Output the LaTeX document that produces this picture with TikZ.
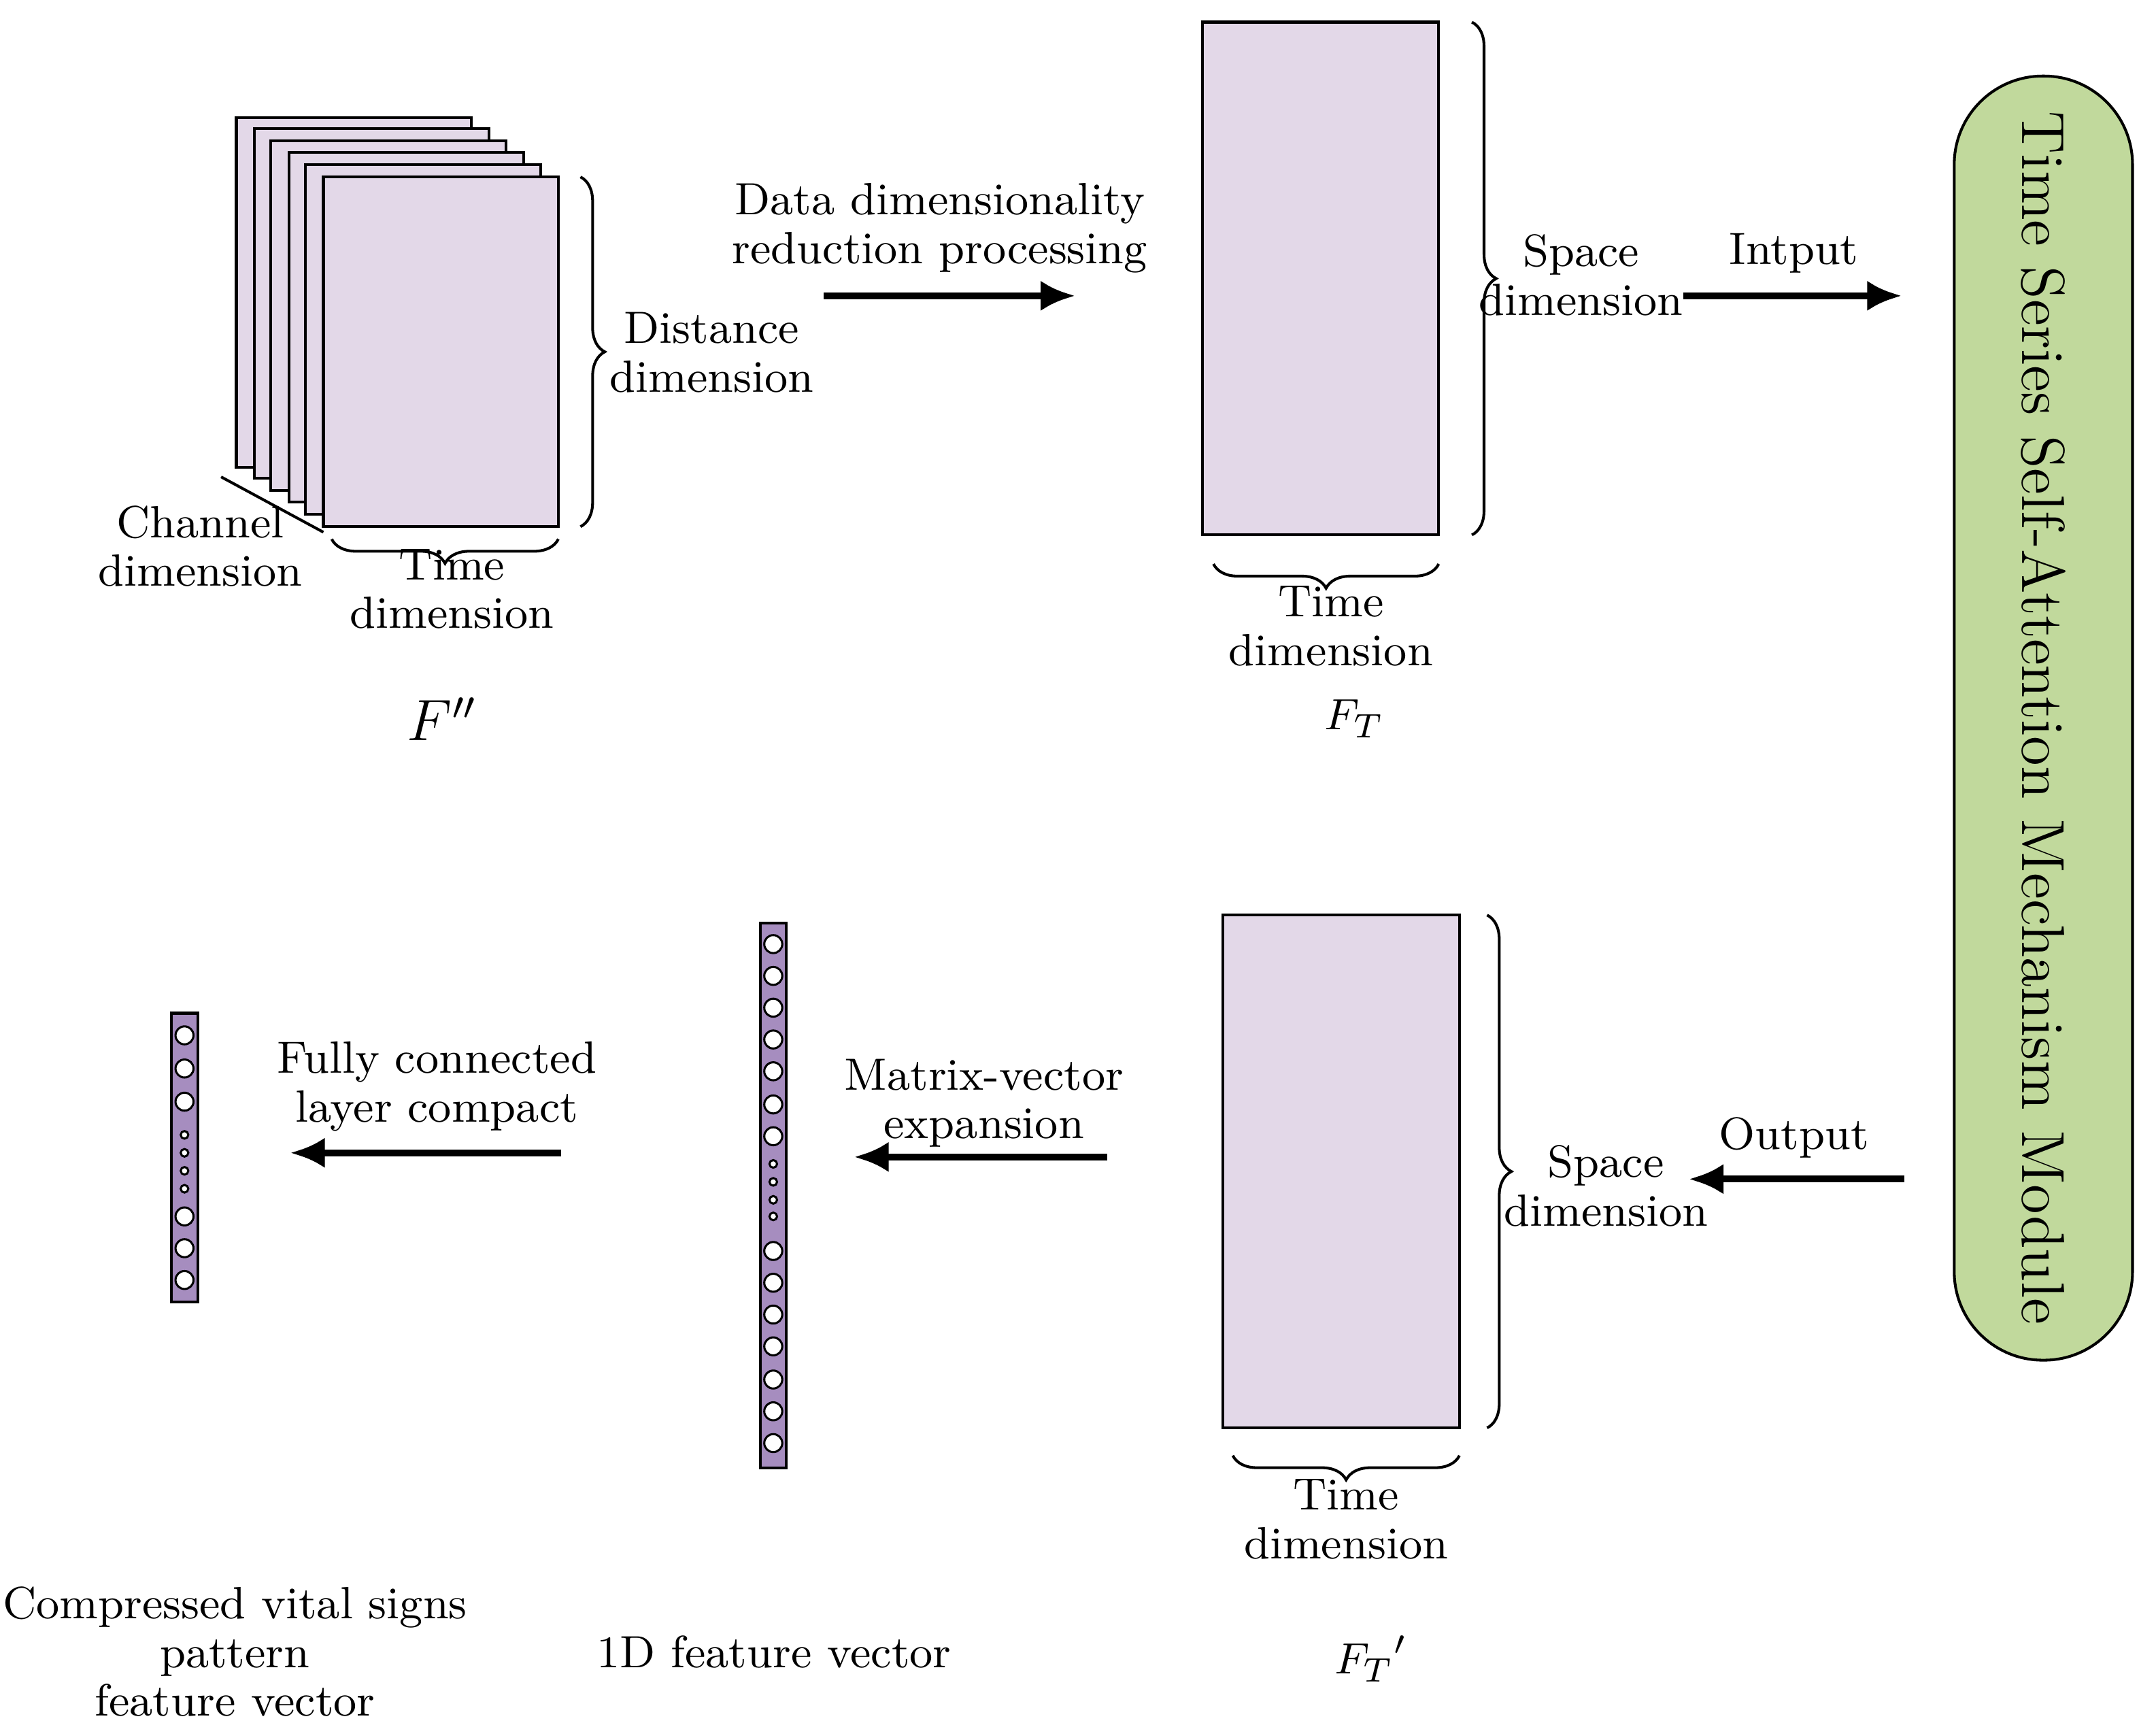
\documentclass[tikz,border=0pt]{standalone}
\usetikzlibrary{decorations.pathreplacing,arrows.meta}
\definecolor{lightpurple}{HTML}{E3D8E8}
\definecolor{vecpurple}{HTML}{A68DBF}
\definecolor{modgreen}{HTML}{C1D99C}
\tikzset{
  lbl/.style={align=center, font=\fontsize{9.3}{10}\selectfont, inner sep=1pt},
  mat/.style={draw, fill=lightpurple, line width=0.2mm},
  arr/.style={-{Latex[length=2.5mm,width=2.2mm]}, line width=0.5mm},
  brc/.style={decorate, decoration={brace, amplitude=5pt}, line width=0.2mm},
  big/.style={draw, fill=white, circle, inner sep=0pt, minimum size=1.3mm, line width=0.15mm},
  small/.style={draw, fill=white, circle, inner sep=0pt, minimum size=0.55mm, line width=0.15mm},
}
\begin{document}
\begin{tikzpicture}[x=0.01cm, y=-0.01cm]
\useasboundingbox (0,0) rectangle (1560,1245);

% stacked channel maps
\foreach \i/\x/\y in {0/171/85,1/184/93,2/196/102,3/209/110,4/221/119,5/234/128}
  \draw [mat] (\x,\y) rectangle ++(170,253);
\draw [line width=0.2mm] (160,345) -- (234,385);
\node [lbl] (chan) at (145,395) {Channel\\dimension};
\draw [brc] (404,390) -- (240,390);
\node [lbl] (time1) at (327,426) {Time\\dimension};
\draw [brc] (420,128) -- (420,381);
\node [lbl] (dist) at (515,255) {Distance\\dimension};
\node [lbl, font=\large] (Fpp) at (320,520) {$F''$};

\coordinate (a1s) at (596,214);
\coordinate (a1e) at (778,214);
\draw [arr] (a1s) -- (a1e);
\node [lbl] (red) at (680,165) {Data dimensionality\\reduction processing};

% F_T
\draw [mat] (870,16) rectangle (1041,387);
\draw [brc] (1065,16) -- (1065,387);
\node [lbl] (space1) at (1144,199) {Space\\dimension};
\draw [brc] (1041,408) -- (878,408);
\node [lbl] (time2) at (963,453) {Time\\dimension};
\node [lbl] (FT) at (980,520) {$F_T$};

\coordinate (a2s) at (1218,214);
\coordinate (a2e) at (1376,214);
\draw [arr] (a2s) -- (a2e);
\node [lbl] (inp) at (1298,183) {Intput};

% attention module
\draw [fill=modgreen, line width=0.2mm, rounded corners=0.64cm] (1414,55) rectangle (1543,984);
\node [lbl, rotate=-90, font=\fontsize{12.5}{13}\selectfont] (modtxt) at (1478.5,519.5) {Time Series Self-Attention Mechanism Module};

\draw [arr] (1378,853) -- (1222,853);
\node [lbl] (out) at (1298,823) {Output};

% F_T'
\draw [mat] (885,662) rectangle (1056,1033);
\draw [brc] (1076,662) -- (1076,1033);
\node [lbl] (space2) at (1162,858) {Space\\dimension};
\draw [brc] (1056,1053) -- (892,1053);
\node [lbl] (time3) at (974,1099) {Time\\dimension};
\node [lbl] (FTp) at (992,1200) {$F_T{}'$};

% 1D feature vector
\draw [fill=vecpurple, line width=0.2mm] (550,668) rectangle (569,1062);
\foreach \y in {683,706,729,752,775,799,822,905,928,951,974,998,1021,1044}
  \node [big] at (559.5,\y) {};
\foreach \y in {842,855,868,880}
  \node [small] at (559.5,\y) {};
\node [lbl] (vec1) at (560,1195) {1D feature vector};

\draw [arr] (801,837) -- (618,837);
\node [lbl] (exp) at (712,798) {Matrix-vector\\expansion};

% compressed vector
\draw [fill=vecpurple, line width=0.2mm] (124,733) rectangle (143,942);
\foreach \y in {749,773,797,880,903,926}
  \node [big] at (133.5,\y) {};
\foreach \y in {821,834,847,860}
  \node [small] at (133.5,\y) {};
\node [lbl] (vec2) at (170,1195) {Compressed vital signs\\pattern\\feature vector};

\draw [arr] (406,834) -- (210,834);
\node [lbl] (fc) at (316,786) {Fully connected\\layer compact};
\end{tikzpicture}
\end{document}
